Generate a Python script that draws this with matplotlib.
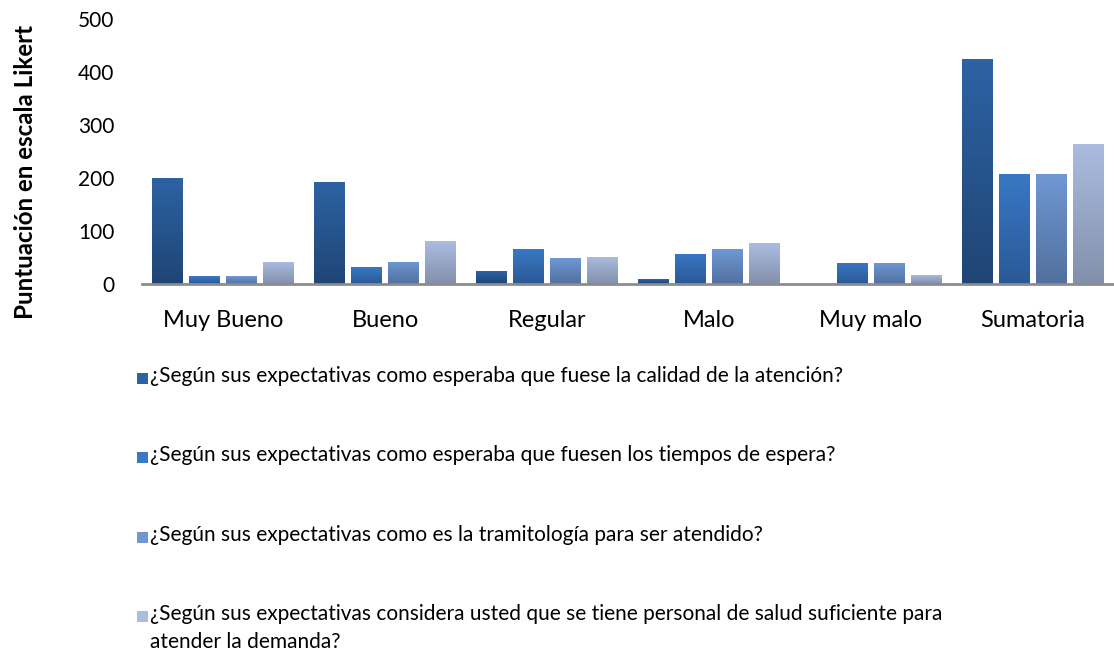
import numpy as np
import matplotlib
matplotlib.use("Agg")
import matplotlib.pyplot as plt
from matplotlib.colors import LinearSegmentedColormap
from matplotlib.patches import Rectangle

plt.rcParams['font.family'] = ['Lato', 'DejaVu Sans']

# datos
categorias = ["Muy Bueno", "Bueno", "Regular", "Malo", "Muy malo", "Sumatoria"]
calidad = [200, 192, 24, 9, 0, 425]
tiempos = [15, 32, 66, 57, 40, 208]
tramites = [15, 42, 49, 66, 40, 208]
personal = [42, 81, 51, 77, 17, 264]

etiquetas = [
    "¿Según sus expectativas como esperaba que fuese la calidad de la atención?",
    "¿Según sus expectativas como esperaba que fuesen los tiempos de espera?",
    "¿Según sus expectativas como es la tramitología para ser atendido?",
    "¿Según sus expectativas considera usted que se tiene personal de salud suficiente para\natender la demanda?",
]
series = [calidad, tiempos, tramites, personal]
# colores degradado (arriba, abajo)
colores = [("#2D62A3", "#1F4575"), ("#3878C4", "#2A5996"),
           ("#6F98D3", "#52709F"), ("#AABCDF", "#8390AC")]

W, H = 1114, 657
fig = plt.figure(figsize=(W / 100, H / 100), dpi=100)
ax = fig.add_axes([142 / W, (H - 284) / H, (1114 - 142) / W, (284 - 19) / H])

x = np.arange(len(categorias))
ancho = 0.19
paso = 0.228
for i, (vals, (c_top, c_bot)) in enumerate(zip(series, colores)):
    pos = x + (i - 1.5) * paso
    bars = ax.bar(pos, vals, width=ancho, color=c_bot, zorder=2)
    cmap = LinearSegmentedColormap.from_list("g%d" % i, [c_bot, c_top])
    grad = np.linspace(0, 1, 64).reshape(-1, 1)
    for b in bars:
        if b.get_height() <= 0:
            continue
        x0, y0 = b.get_x(), b.get_y()
        im = ax.imshow(grad, cmap=cmap, origin="lower", aspect="auto",
                       extent=(x0, x0 + b.get_width(), y0, y0 + b.get_height()),
                       zorder=3)
        im.set_clip_path(b)

ax.set_xlim(-0.5, len(categorias) - 0.5)
ax.set_ylim(0, 500)
ax.set_yticks(range(0, 501, 100))
ax.set_xticks(x)
ax.set_xticklabels(categorias, fontsize=17)
ax.tick_params(axis="y", labelsize=15, length=0, pad=20)
ax.tick_params(axis="x", length=0, pad=19)
for s in ["top", "right", "left"]:
    ax.spines[s].set_visible(False)
ax.spines["bottom"].set_color("#8C8C8C")
ax.spines["bottom"].set_linewidth(2)
ax.spines["bottom"].set_zorder(4)

fig.text(26 / W, 1 - 172 / H, "Puntuación en escala Likert", rotation=90,
         ha="center", va="center", fontsize=17.4, fontweight="bold")

# leyenda
ys = [378, 457, 537, 616]
for (c_top, c_bot), lab, yy in zip(colores, etiquetas, ys):
    fig.patches.append(Rectangle((137 / W, 1 - (yy + 6) / H), 11 / W, 11 / H,
                                 transform=fig.transFigure, facecolor=c_top,
                                 edgecolor="none"))
    fig.text(150 / W, 1 - (yy - 12) / H, lab, ha="left", va="top", fontsize=15,
             linespacing=1.5)

fig.savefig("out.png", dpi=100)
